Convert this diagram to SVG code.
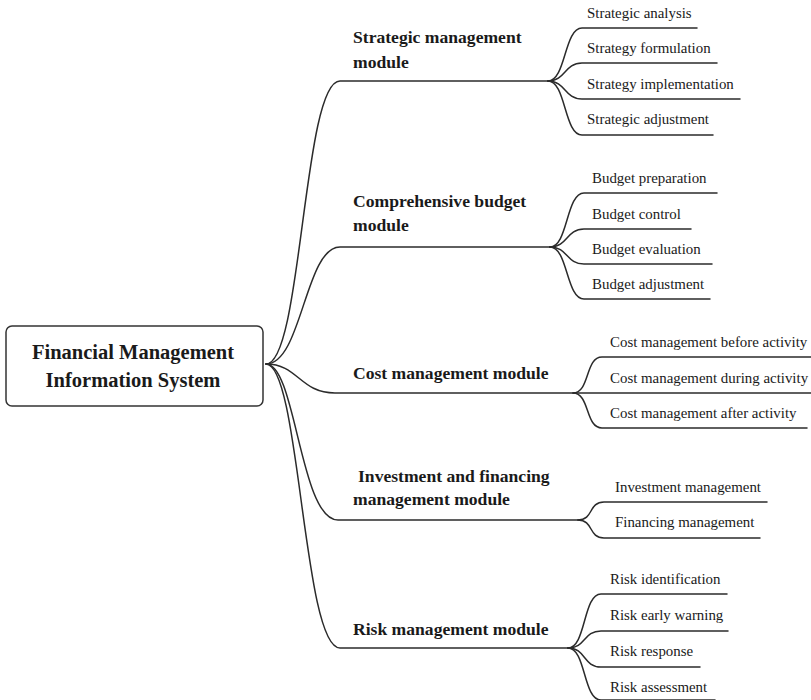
<svg xmlns="http://www.w3.org/2000/svg" width="811" height="700" viewBox="0 0 811 700">
  <style>
    .bg { fill: #ffffff; }
    .link { fill: none; stroke: #2b2b2b; stroke-width: 1.5; stroke-linecap: round; }
    .root-box { fill: #ffffff; stroke: #333333; stroke-width: 1.5; }
    .root-text { font-family: "Liberation Serif", "Times New Roman", serif; font-size: 20.5px; font-weight: bold; fill: #1a1a1a; }
    .module { font-family: "Liberation Serif", "Times New Roman", serif; font-size: 17.6px; font-weight: bold; fill: #1a1a1a; }
    .leaf { font-family: "Liberation Serif", "Times New Roman", serif; font-size: 14.9px; fill: #1a1a1a; }
  </style>
  <rect class="bg" x="0" y="0" width="811" height="700"/>

  <!-- connectors: root to modules, modules to sub-items -->
  <g id="connectors">
    <path class="link" d="M266,364 C302,364 303,81 340,81 H548"/>
    <path class="link" d="M266,364 C302,364 305,247 340,247 H550"/>
    <path class="link" d="M266,364 C298,364 300,393 335,393 H811"/>
    <path class="link" d="M266,364 C296,364 300,520 338,520 H578"/>
    <path class="link" d="M266,364 C300,364 303,648 340,648 H568"/>

    <path class="link" d="M548,81 C566,81 564,28 582,28 H697"/>
    <path class="link" d="M548,81 C566,81 564,63 582,63 H717"/>
    <path class="link" d="M548,81 C566,81 564,99 582,99 H740"/>
    <path class="link" d="M548,81 C566,81 564,135 582,135 H713"/>

    <path class="link" d="M550,247 C568,247 566,193 584,193 H717"/>
    <path class="link" d="M550,247 C568,247 566,229 584,229 H691"/>
    <path class="link" d="M550,247 C568,247 566,264 584,264 H712"/>
    <path class="link" d="M550,247 C568,247 566,299 584,299 H710"/>

    <path class="link" d="M573,393 C590,393 585,357 602,357 H811"/>
    <path class="link" d="M573,393 C590,393 585,428 602,428 H807"/>

    <path class="link" d="M578,520 C594,520 588,502 604,502 H767"/>
    <path class="link" d="M578,520 C594,520 588,538 604,538 H760"/>

    <path class="link" d="M568,648 C586,648 583,594 601,594 H727"/>
    <path class="link" d="M568,648 C586,648 583,631 601,631 H728"/>
    <path class="link" d="M568,648 C586,648 583,667 601,667 H700"/>
    <path class="link" d="M568,648 C586,648 583,700 601,700 H715"/>
  </g>

  <g id="root">
    <rect class="root-box" x="6" y="326" width="257" height="80" rx="6" ry="6"/>
    <text class="root-text" x="133" y="359" text-anchor="middle">Financial Management</text>
    <text class="root-text" x="133" y="387" text-anchor="middle">Information System</text>
  </g>

  <g id="strategic">
    <text class="module" x="353" y="43">Strategic management</text>
    <text class="module" x="353" y="68">module</text>
    <text class="leaf" x="587" y="18">Strategic analysis</text>
    <text class="leaf" x="587" y="53">Strategy formulation</text>
    <text class="leaf" x="587" y="89">Strategy implementation</text>
    <text class="leaf" x="587" y="124">Strategic adjustment</text>
  </g>

  <g id="budget">
    <text class="module" x="353" y="207">Comprehensive budget</text>
    <text class="module" x="353" y="231">module</text>
    <text class="leaf" x="592" y="183">Budget preparation</text>
    <text class="leaf" x="592" y="219">Budget control</text>
    <text class="leaf" x="592" y="254">Budget evaluation</text>
    <text class="leaf" x="592" y="289">Budget adjustment</text>
  </g>

  <g id="cost">
    <text class="module" x="353" y="379">Cost management module</text>
    <text class="leaf" x="610" y="347">Cost management before activity</text>
    <text class="leaf" x="610" y="383">Cost management during activity</text>
    <text class="leaf" x="610" y="418">Cost management after activity</text>
  </g>

  <g id="investment">
    <text class="module" x="358" y="482">Investment and financing</text>
    <text class="module" x="353" y="505">management module</text>
    <text class="leaf" x="615" y="492">Investment management</text>
    <text class="leaf" x="615" y="527">Financing management</text>
  </g>

  <g id="risk">
    <text class="module" x="353" y="635">Risk management module</text>
    <text class="leaf" x="610" y="584">Risk identification</text>
    <text class="leaf" x="610" y="620">Risk early warning</text>
    <text class="leaf" x="610" y="656">Risk response</text>
    <text class="leaf" x="610" y="692">Risk assessment</text>
  </g>
</svg>
